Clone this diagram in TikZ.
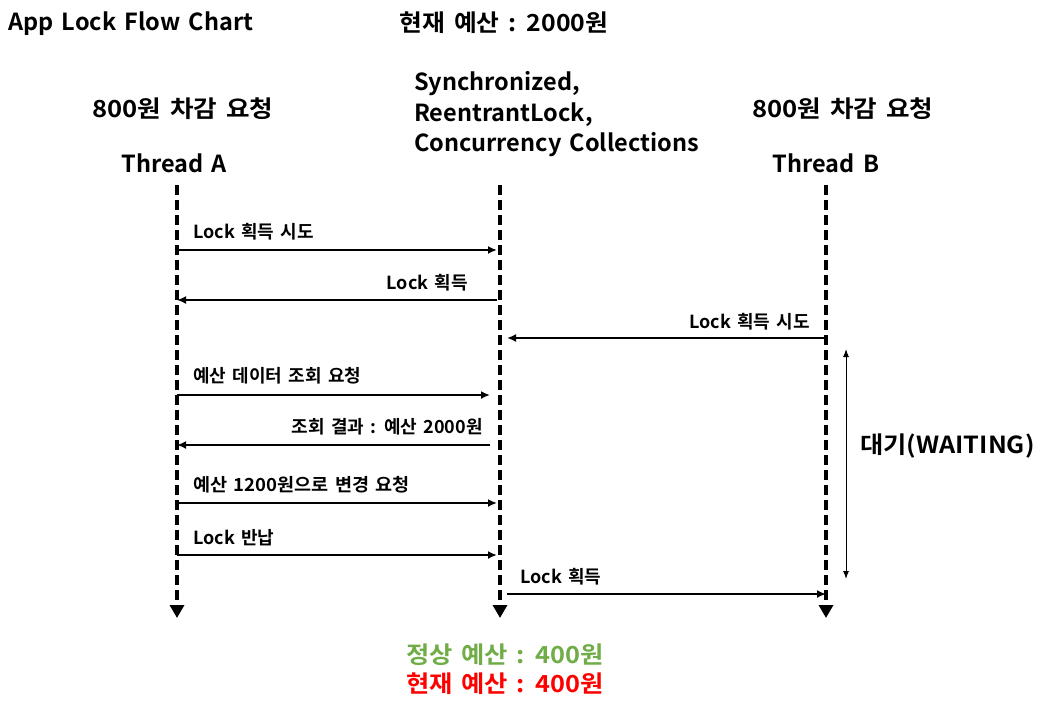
\documentclass[tikz,border=0pt]{standalone}
\usepackage{fontspec}
\usepackage{graphicx}
\setmainfont{Noto Sans CJK KR}[BoldFont={Noto Sans CJK KR Bold}]
\usetikzlibrary{arrows.meta}
\definecolor{okgreen}{RGB}{112,173,71}
\definecolor{badred}{RGB}{255,0,0}
\newcommand\mybigfont{\bfseries\fontsize{23.5}{28}\selectfont\spaceskip 0.35em\relax}
\newcommand\mysmallfont{\bfseries\fontsize{18}{21}\selectfont\spaceskip 0.35em\relax}
\newcommand\widen[2]{\scalebox{#1}[1]{#2}}
\begin{document}
\begin{tikzpicture}[x=1pt,y=-1pt,
  big/.style={font=\mybigfont, inner sep=0pt},
  small/.style={font=\mysmallfont, inner sep=0pt},
  lifeline/.style={line width=4pt, dash pattern=on 10pt off 5pt, -{Triangle[width=14pt,length=13pt]}},
  msg/.style={line width=2.8pt, -{Latex[length=9pt,width=8pt]}},
  wait/.style={line width=1pt, {Latex[length=8pt,width=6pt]}-{Latex[length=8pt,width=6pt]}}]
\useasboundingbox (0,0) rectangle (1051,716);
% headers
\node[big, anchor=base west] (title) at (8,30) {App Lock Flow Chart};
\node[big, anchor=base] (budget) at (504,31) {\widen{1.055}{현재 예산 : 2000원}};
\node[big, anchor=base west] (sync1) at (414,90) {Synchronized,};
\node[big, anchor=base west] (sync2) at (414,121) {ReentrantLock,};
\node[big, anchor=base west] (sync3) at (414,151) {Concurrency Collections};
\node[big, anchor=base] (reqA) at (183,117) {\widen{1.09}{800원 차감 요청}};
\node[big, anchor=base] (thA) at (174,172) {Thread A};
\node[big, anchor=base] (reqB) at (843,117) {\widen{1.09}{800원 차감 요청}};
\node[big, anchor=base] (thB) at (826,172) {Thread B};
% lifelines
\coordinate (At) at (177,185); \coordinate (Ab) at (177,618);
\coordinate (Lt) at (500,185); \coordinate (Lb) at (500,618);
\coordinate (Bt) at (826,185); \coordinate (Bb) at (826,618);
\draw[lifeline] (At) -- (Ab);
\draw[lifeline] (Lt) -- (Lb);
\draw[lifeline] (Bt) -- (Bb);
% message endpoints
\coordinate (a1) at (177,250); \coordinate (l1) at (497,250);
\coordinate (a2) at (177,300); \coordinate (l2) at (497,300);
\coordinate (b3) at (826,338); \coordinate (l3) at (507,338);
\coordinate (a4) at (177,395); \coordinate (l4) at (490,395);
\coordinate (a5) at (177,445); \coordinate (l5) at (490,445);
\coordinate (a6) at (177,503); \coordinate (l6) at (497,503);
\coordinate (a7) at (177,555); \coordinate (l7) at (497,555);
\coordinate (l8) at (507,594); \coordinate (b8) at (826,594);
\draw[msg] (a1) -- (l1);
\draw[msg] (l2) -- (a2);
\draw[msg] (b3) -- (l3);
\draw[msg] (a4) -- (l4);
\draw[msg] (l5) -- (a5);
\draw[msg] (a6) -- (l6);
\draw[msg] (a7) -- (l7);
\draw[msg] (l8) -- (b8);
\node[small, anchor=base west] (m1) at (193,238) {Lock 획득 시도};
\node[small, anchor=base east] (m2) at (468,289) {Lock 획득};
\node[small, anchor=base east] (m3) at (810,328) {Lock 획득 시도};
\node[small, anchor=base west] (m4) at (193,382) {예산 데이터 조회 요청};
\node[small, anchor=base east] (m5) at (483,433) {조회 결과 : 예산 2000원};
\node[small, anchor=base west] (m6) at (193,491) {\widen{1.03}{예산 1200원으로 변경 요청}};
\node[small, anchor=base west] (m7) at (193,544) {Lock 반납};
\node[small, anchor=base west] (m8) at (520,583) {Lock 획득};
% waiting
\coordinate (w1) at (846,349); \coordinate (w2) at (846,579);
\draw[wait] (w1) -- (w2);
\node[big, anchor=base west] (waitlbl) at (860,453) {\widen{1.075}{대기(WAITING)}};
% bottom
\node[big, anchor=base, text=okgreen] (ok) at (505,663) {\widen{1.077}{정상 예산 : 400원}};
\node[big, anchor=base, text=badred] (bad) at (505,692) {\widen{1.077}{현재 예산 : 400원}};
\end{tikzpicture}
\end{document}
